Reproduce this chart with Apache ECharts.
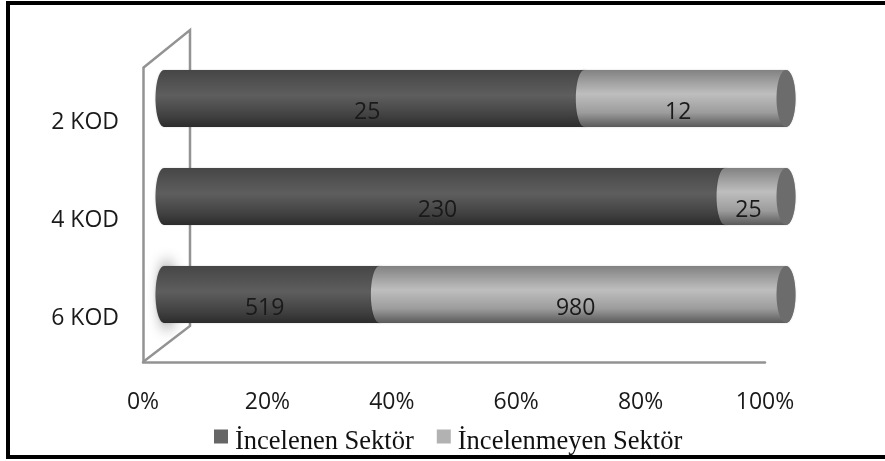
<!DOCTYPE html>
<html><head><meta charset="utf-8">
<style>html,body{margin:0;padding:0;background:#fff}#c{width:885px;height:461px}</style>
<script src="https://cdn.jsdelivr.net/npm/echarts@6/dist/echarts.min.js"></script>
</head><body><div id="c"></div>
<script>
const categories = ['2 KOD', '4 KOD', '6 KOD'];
const incelenen = [25, 230, 519];
const incelenmeyen = [12, 25, 980];
const names = ['İncelenen Sektör', 'İncelenmeyen Sektör'];
const tickStep = 20;

const chart = echarts.init(document.getElementById('c'), null, {renderer: 'canvas'});
const K = 0.5523;
function cyl(x0, x1, top, bot, rxL, rxR) {
  const m = (top + bot) / 2, r = (bot - top) / 2;
  return `M${x0} ${top}L${x1} ${top}` +
    `C${x1 + rxR * K} ${top} ${x1 + rxR} ${m - r * K} ${x1 + rxR} ${m}` +
    `C${x1 + rxR} ${m + r * K} ${x1 + rxR * K} ${bot} ${x1} ${bot}` +
    `L${x0} ${bot}` +
    `C${x0 - rxL * K} ${bot} ${x0 - rxL} ${m + r * K} ${x0 - rxL} ${m}` +
    `C${x0 - rxL} ${m - r * K} ${x0 - rxL * K} ${top} ${x0} ${top}Z`;
}
function ell(cx, top, bot, rx) {
  const m = (top + bot) / 2, r = (bot - top) / 2;
  return `M${cx} ${top}C${cx + rx * K} ${top} ${cx + rx} ${m - r * K} ${cx + rx} ${m}` +
    `C${cx + rx} ${m + r * K} ${cx + rx * K} ${bot} ${cx} ${bot}` +
    `C${cx - rx * K} ${bot} ${cx - rx} ${m + r * K} ${cx - rx} ${m}` +
    `C${cx - rx} ${m - r * K} ${cx - rx * K} ${top} ${cx} ${top}Z`;
}
const darkFill = () => new echarts.graphic.LinearGradient(0, 0, 0, 1, [
  {offset: 0, color: '#464646'}, {offset: 0.45, color: '#5e5e5e'}, {offset: 0.8, color: '#414141'}, {offset: 1, color: '#2c2c2c'}]);
const lightFill = () => new echarts.graphic.LinearGradient(0, 0, 0, 1, [
  {offset: 0, color: '#828282'}, {offset: 0.42, color: '#bebebe'}, {offset: 0.75, color: '#9c9c9c'}, {offset: 1, color: '#5a5a5a'}]);

function makeRender(fillFn, isLast) {
  return function (params, api) {
    const a = api.coord([api.value(0), api.value(2)]);
    const b = api.coord([api.value(1), api.value(2)]);
    const band = api.size([0, 1])[1];
    const h = band * 0.58;
    const top = a[1] - h / 2, bot = a[1] + h / 2;
    const kids = [{
      type: 'path',
      shape: {pathData: cyl(a[0], b[0], top, bot, 8.5, 9.5)},
      style: {fill: fillFn(), shadowBlur: 2, shadowColor: 'rgba(0,0,0,0.18)'}
    }];
    if (isLast) kids.push({
      type: 'path',
      shape: {pathData: ell(b[0], top, bot, 9.5)},
      style: {fill: '#6c6c6c'}
    });
    kids.push({
      type: 'text',
      z2: 10,
      style: {
        x: (a[0] + b[0]) / 2 - 7, y: a[1] + 13.5,
        text: String(api.value(3)),
        fill: '#1a1a1a', font: '23px "Open Sans"',
        textAlign: 'center', textVerticalAlign: 'middle'
      }
    });
    return {type: 'group', children: kids};
  };
}
const totals = categories.map((_, i) => incelenen[i] + incelenmeyen[i]);
const darkData = categories.map((_, i) => [0, incelenen[i] / totals[i] * 100, i, incelenen[i]]);
const lightData = categories.map((_, i) => [incelenen[i] / totals[i] * 100, 100, i, incelenmeyen[i]]);

chart.setOption({
  animation: false,
  backgroundColor: '#fff',
  grid: [
    {left: 143, width: 622, top: 68, height: 294},
    {left: 143, width: 622, top: 73, height: 294},
    {left: 164, width: 622, top: 49.5, height: 294}
  ],
  xAxis: [
    {gridIndex: 0, type: 'value', min: 0, max: 100, interval: tickStep,
     axisLine: {show: true, lineStyle: {color: '#939393', width: 2.5}}, axisTick: {show: false}, splitLine: {show: false},
     axisLabel: {color: '#1a1a1a', fontFamily: 'Open Sans', fontSize: 23, margin: 29, formatter: '{value}%'}},
    {gridIndex: 1, type: 'value', min: 0, max: 100, show: false},
    {gridIndex: 2, type: 'value', min: 0, max: 100, show: false}
  ],
  yAxis: [
    {gridIndex: 0, type: 'category', inverse: true, data: categories,
     axisLine: {show: true, onZero: false, lineStyle: {color: '#939393', width: 2.5}}, axisTick: {show: false}, axisLabel: {show: false}},
    {gridIndex: 1, type: 'category', inverse: true, data: categories,
     axisLine: {show: false}, axisTick: {show: false},
     axisLabel: {color: '#1a1a1a', fontFamily: 'Open Sans', fontSize: 23, margin: 24}},
    {gridIndex: 2, type: 'category', inverse: true, data: categories, show: false}
  ],
  legend: {
    left: 209, top: 424, itemWidth: 14, itemHeight: 26, itemGap: 23,
    icon: 'path://M0 0H14V14H0Z M0 26H0.01V26.01H0Z',
    data: [{name: names[0], itemStyle: {color: '#666666'}}, {name: names[1], itemStyle: {color: '#b2b2b2'}}],
    textStyle: {fontFamily: 'Liberation Serif', fontSize: 26.5, color: '#111', padding: [2, 0, 0, 2]}
  },
  graphic: [
    {type: 'rect', z: 0, shape: {x: 8, y: 3, width: 885, height: 454}, style: {fill: 'none', stroke: '#000', lineWidth: 4}},
    {type: 'polyline', z: 0, shape: {points: [[143, 68], [190, 30], [190, 326], [143, 362]]}, style: {fill: 'none', stroke: '#939393', lineWidth: 2.5}},
    {type: 'ellipse', z: 1, shape: {cx: 167 - 2000, cy: 295, rx: 6, ry: 36}, style: {fill: '#888', shadowBlur: 14, shadowColor: '#808080', shadowOffsetX: 2000}}
  ],
  series: [
    {name: names[0], type: 'custom', coordinateSystem: 'cartesian2d', xAxisIndex: 2, yAxisIndex: 2, clip: false,
     itemStyle: {color: '#666666'}, encode: {x: [0, 1], y: 2}, data: darkData, renderItem: makeRender(darkFill, false)},
    {name: names[1], type: 'custom', coordinateSystem: 'cartesian2d', xAxisIndex: 2, yAxisIndex: 2, clip: false,
     itemStyle: {color: '#b2b2b2'}, encode: {x: [0, 1], y: 2}, data: lightData, renderItem: makeRender(lightFill, true)}
  ]
});
</script></body></html>
